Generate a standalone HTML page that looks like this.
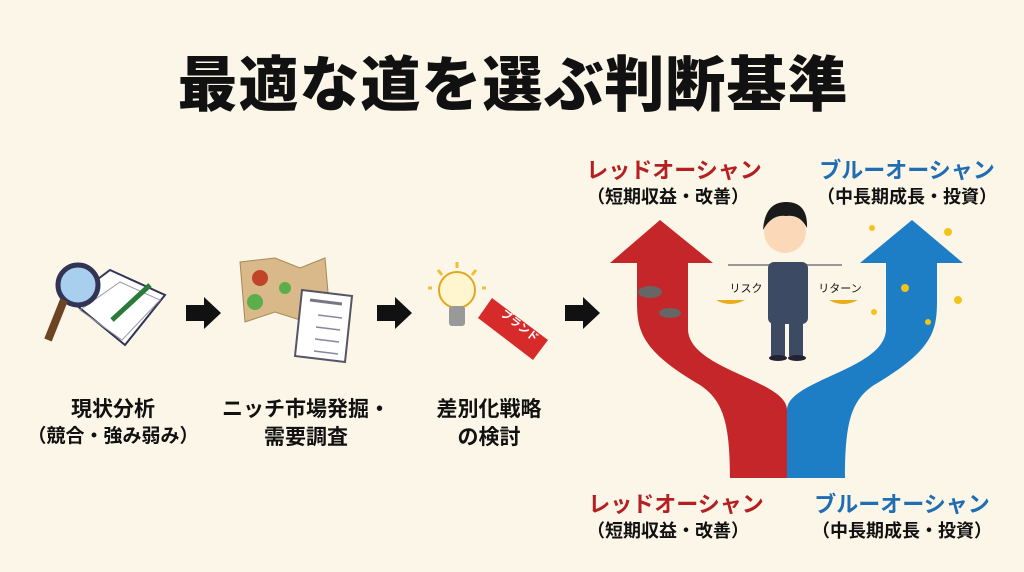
<!DOCTYPE html>
<html><head><meta charset="utf-8"><style>
html,body{margin:0;padding:0}
body{width:1024px;height:572px;background:#fbf6e7;position:relative;overflow:hidden;font-family:"Liberation Sans","Noto Sans CJK JP",sans-serif;}
.t{position:absolute;font-weight:bold;white-space:nowrap;text-align:center;transform:translateX(-50%);line-height:1}
</style></head><body>
<div class="t" style="left:513px;top:56px;font-size:60px;color:#111;letter-spacing:1px;font-weight:900">最適な道を選ぶ判断基準</div>

<svg width="1024" height="572" style="position:absolute;left:0;top:0">
<g fill="#111">
<polygon points="186,305 204,305 204,297 221,313 204,329 204,321 186,321"/>
<polygon points="377,305 395,305 395,297 412,313 395,329 395,321 377,321"/>
<polygon points="565,305 583,305 583,297 600,313 583,329 583,321 565,321"/>
</g>
<g>
<polygon points="70,300 110,270 165,295 125,345" fill="#fff" stroke="#335" stroke-width="2"/>
<polygon points="80,310 120,282 160,300 122,340" fill="none" stroke="#99a" stroke-width="1"/>
<line x1="112" y1="320" x2="150" y2="285" stroke="#2a7a3a" stroke-width="5"/>
<circle cx="78" cy="285" r="20" fill="#a8d0ee" stroke="#335" stroke-width="5"/>
<line x1="64" y1="300" x2="48" y2="340" stroke="#6b4424" stroke-width="8"/>
</g>
<g>
<polygon points="240,262 275,258 300,268 325,258 330,315 300,320 275,312 245,322" fill="#d9b88a" stroke="#a88755"/>
<circle cx="260" cy="278" r="8" fill="#c0442a"/>
<circle cx="255" cy="302" r="8" fill="#5bae4a"/>
<circle cx="285" cy="288" r="6" fill="#5bae4a"/>
<polygon points="302,290 352,296 345,362 295,356" fill="#fff" stroke="#556" stroke-width="2"/>
<line x1="310" y1="300" x2="342" y2="304" stroke="#778" stroke-width="3"/>
<g stroke="#889" stroke-width="1.5"><line x1="318" y1="315" x2="342" y2="318"/><line x1="316" y1="327" x2="340" y2="330"/><line x1="315" y1="339" x2="339" y2="342"/><line x1="314" y1="351" x2="338" y2="354"/></g>
</g>
<g>
<circle cx="457" cy="290" r="18" fill="#fff6d0" stroke="#e0a820" stroke-width="2"/>
<rect x="449" y="306" width="16" height="20" rx="3" fill="#999"/>
<g stroke="#f0c030" stroke-width="3"><line x1="457" y1="262" x2="457" y2="268"/><line x1="438" y1="270" x2="442" y2="275"/><line x1="476" y1="270" x2="472" y2="275"/><line x1="432" y1="288" x2="428" y2="288"/><line x1="482" y1="288" x2="486" y2="288"/></g>
<polygon points="492,298 548,340 533,360 478,318" fill="#d72a2a"/>
<text x="500" y="315" font-size="11" fill="#fff" font-weight="bold" transform="rotate(38 500 315)" font-family="Liberation Sans,Noto Sans CJK JP,sans-serif">ブランド</text>
</g>
<path d="M660,220 L713,263 L688,263 L688,330 C690,370 787,380 787,410 L787,478 L730,478 C730,420 722,400 700,385 C640,350 637,330 637,300 L637,263 L610,263 Z" fill="#c4262a"/>
<path d="M912,220 L963,263 L937,263 L937,300 C937,330 934,350 874,385 C852,400 845,420 845,478 L787,478 L787,410 C787,380 884,370 886,330 L886,263 L860,263 Z" fill="#1d7ec6"/>
<g fill="#666"><ellipse cx="650" cy="292" rx="12" ry="6"/><ellipse cx="670" cy="313" rx="11" ry="5"/></g>
<g fill="#f3c417"><circle cx="872" cy="228" r="3"/><circle cx="948" cy="232" r="4"/><circle cx="905" cy="288" r="4"/><circle cx="958" cy="300" r="4"/><circle cx="874" cy="312" r="3"/><circle cx="928" cy="322" r="3"/></g>
<g>
<line x1="728" y1="265" x2="842" y2="265" stroke="#999" stroke-width="2"/>
<path d="M716,300 Q730,308 745,300 Z" fill="#e8ac1c"/>
<path d="M829,300 Q843,308 858,300 Z" fill="#e8ac1c"/>
<rect x="768" y="262" width="40" height="62" rx="6" fill="#3c4a63"/>
<rect x="771" y="322" width="14" height="34" fill="#3c4a63"/>
<rect x="789" y="322" width="14" height="34" fill="#3c4a63"/>
<ellipse cx="778" cy="358" rx="9" ry="3" fill="#223"/><ellipse cx="797" cy="358" rx="9" ry="3" fill="#223"/>
<circle cx="785" cy="232" r="21" fill="#fbd8b8"/>
<path d="M763,230 Q765,202 786,202 Q808,202 807,228 Q800,214 786,216 Q772,214 763,230Z" fill="#1a1a1a"/>
</g>
</svg>
<div class="t" style="left:746px;top:284px;font-size:11px;color:#111;font-weight:normal">リスク</div>
<div class="t" style="left:840px;top:284px;font-size:11px;color:#111;font-weight:normal">リターン</div>

<div class="t" style="left:113px;top:399px;font-size:21px;color:#111">現状分析</div>
<div class="t" style="left:113px;top:427px;font-size:19px;color:#111">（競合・強み弱み）</div>
<div class="t" style="left:306px;top:399px;font-size:21px;color:#111">ニッチ市場発掘・</div>
<div class="t" style="left:306px;top:427px;font-size:21px;color:#111">需要調査</div>
<div class="t" style="left:489px;top:399px;font-size:21px;color:#111">差別化戦略</div>
<div class="t" style="left:489px;top:427px;font-size:21px;color:#111">の検討</div>

<div class="t" style="left:674px;top:160px;font-size:22px;color:#b51f22">レッドオーシャン</div>
<div class="t" style="left:668px;top:188px;font-size:18px;color:#111">（短期収益・改善）</div>
<div class="t" style="left:907px;top:160px;font-size:22px;color:#1f6eb3">ブルーオーシャン</div>
<div class="t" style="left:907px;top:188px;font-size:18px;color:#111">（中長期成長・投資）</div>
<div class="t" style="left:676px;top:494px;font-size:22px;color:#b51f22">レッドオーシャン</div>
<div class="t" style="left:668px;top:522px;font-size:18px;color:#111">（短期収益・改善）</div>
<div class="t" style="left:902px;top:494px;font-size:22px;color:#1f6eb3">ブルーオーシャン</div>
<div class="t" style="left:902px;top:522px;font-size:18px;color:#111">（中長期成長・投資）</div>
</body></html>
